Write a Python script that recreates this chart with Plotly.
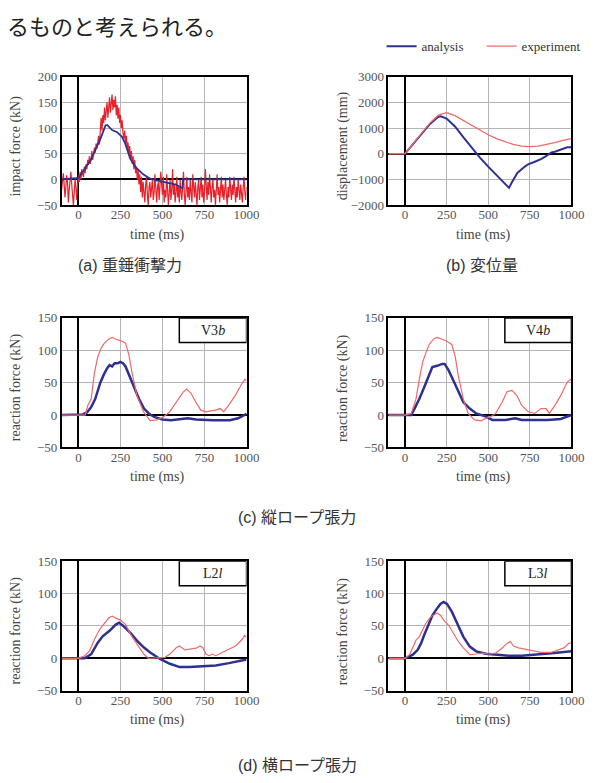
import plotly.graph_objects as go

W, H = 602, 783

# ---------------- data ----------------
# (a) impact force (kN), experiment sampled every 5 ms
t_a_exp = list(range(-100, 1001, 5))
f_a_exp = [-20, 5, 12, -10, -35, -15, 8, -5, -45, -20, -5, 15, -10, -30, -50, -25, 0, -15, -40, -10,
           8, -5, 15, 0, 20, 10, 5, 25, 12, 30, 20, 38, 28, 45, 30, 40, 55, 38, 50, 62,
           52, 70, 60, 78, 85, 68, 100, 120, 95, 125, 110, 140, 115, 130, 150, 120, 140, 160, 130, 150,
           165, 135, 155, 140, 162, 125, 145, 118, 140, 110, 125, 100, 115, 90, 80, 95, 70, 85, 60, 72,
           50, 65, 40, 55, 30, 45, 20, 38, 12, 25, 0, 18, -10, 10, -25, 5, -35, -5, -20, -45,
           -10, 5, -30, -50, -15, -5, -35, -20, 0, -40, -25, 10, -30, -45, -15, -5, -40, -20, 15, -10,
           -30, 5, -45, -20, -35, 10, -15, -50, -25, 0, -40, -20, 20, -30, -10, -45, -25, 5, -35, -15,
           -45, 0, -25, -40, -10, 15, -30, -50, -20, 5, -35, -15, -40, 0, -25, -45, 10, -20, -35, -5,
           -30, -50, -15, 0, -40, -20, 5, -35, -10, -45, -25, 20, -15, -40, -5, -30, 10, -25, -45, -15,
           0, -35, -20, -50, -10, 10, -30, -15, -45, -25, 5, -35, -10, -40, -20, 0, -30, -50, -15, -35,
           5, -20, -40, -10, -30, 5, -25, -45, -15, -35, 0, -20, -40, -10, -30, -45, -15, 5, -25, -40,
           -15]
t_a_ana = [-100, 0, 74, 132, 161, 171, 200, 230, 259, 278, 307, 337, 385, 424,
           463, 521, 580, 619, 622, 1000]
f_a_ana = [0, 3, 38, 80, 105, 106, 96, 92, 83, 70, 41, 25, 10, 2,
           -2, -6, -10, -17, 0, 0]

# (b) displacement (mm)
t_b_ana = [0, 50, 100, 150, 200, 215, 250, 300, 350, 400, 430, 450, 500, 550,
           600, 625, 640, 675, 720, 740, 780, 820, 850, 880, 900, 920, 950, 975, 1000]
d_b_ana = [0, 400, 780, 1160, 1440, 1460, 1370, 1060, 650, 230, 0, -150, -500, -820,
           -1140, -1330, -1140, -750, -500, -410, -310, -200, -80, 50, 80, 130, 200, 250, 250]
t_b_exp = [-100, 0, 50, 100, 150, 200, 250, 300, 350, 400, 450, 500, 550, 600,
           650, 700, 750, 800, 850, 900, 950, 1000]
d_b_exp = [0, 0, 400, 790, 1200, 1500, 1600, 1480, 1290, 1100, 907, 740, 590, 460,
           360, 295, 280, 295, 360, 435, 520, 590]

# (c) V3b reaction force (kN)
t_c_ana = [-100, 0, 25, 50, 75, 100, 115, 130, 150, 170, 185, 200, 215, 235, 250,
           265, 280, 300, 330, 360, 390, 420, 450, 500, 550, 600, 650, 700, 750,
           800, 850, 900, 950, 975, 1000]
v_c_ana = [0, 0, 1, 4, 12, 25, 38, 50, 62, 72, 77, 75, 80, 80, 82,
           80, 75, 63, 45, 25, 10, 2, -3, -7, -8, -7, -5, -7, -8,
           -8, -8, -8, -5, -2, 2]
t_c_exp = [-100, 0, 40, 56, 76, 95, 115, 134, 154, 183, 202, 222, 251, 280, 300,
           319, 348, 387, 426, 465, 504, 543, 582, 621, 644, 669, 698, 728, 757,
           815, 844, 864, 893, 932, 971, 990, 1000]
v_c_exp = [0, 0, 0, 15, 25, 65, 90, 103, 111, 118, 120, 117, 115, 111, 93,
           65, 30, 5, -8.5, -7.5, -3.5, 5, 20, 35, 40, 34, 20, 7.5, 5,
           7.5, 10, 5, 15, 30, 48, 55, 53]

# (d) V4b reaction force (kN)
t_d_ana = [-100, 0, 37, 57, 86, 115, 145, 164, 193, 223, 238, 262, 291, 320, 350,
           389, 428, 486, 525, 604, 662, 701, 857, 936, 975, 1000]
v_d_ana = [0, 0, 0, 10, 25, 43, 61, 74, 76, 79, 79, 69, 53, 36, 20,
           10, 2.5, -2.5, -7.6, -7.6, -5, -7.6, -7.6, -6, -2.5, 0]
t_d_exp = [-100, 0, 37, 66, 86, 105, 125, 145, 174, 193, 223, 252, 281, 301, 320,
           350, 379, 418, 457, 486, 516, 545, 584, 613, 643, 672, 701, 740, 779,
           818, 848, 867, 896, 936, 975, 1000]
v_d_exp = [0, 0, 2.5, 25, 56, 81, 96, 109, 118, 120, 117, 114, 109, 91, 61,
           25, 2.5, -7.6, -9, -5, -2.5, 2.5, 20, 36, 38, 30, 15, 5, 2.5,
           10, 10, 2.5, 13, 30, 51, 56]

# (e) L2l reaction force (kN)
t_e_ana = [-100, 0, 37, 76, 115, 144, 183, 222, 242, 271, 310, 349, 388, 427,
           485, 544, 602, 661, 739, 817, 895, 953, 1000]
v_e_ana = [0, 0, 0, 6.5, 24, 34, 42, 52, 55, 49, 39, 27, 17, 9,
           -1, -8.5, -13.6, -13.6, -12, -11, -7.5, -4.5, -2]
t_e_exp = [-100, 0, 37, 66, 95, 125, 154, 183, 203, 222, 251, 281, 310, 349, 388,
           417, 446, 485, 515, 544, 583, 602, 632, 661, 700, 723, 739, 758, 778,
           797, 817, 856, 895, 934, 973, 988, 1000]
v_e_exp = [0, 0, 4, 11.5, 29, 44, 54, 63, 65, 62, 59, 52, 37, 21.6, 6.5,
           0, 0.5, 0, 1.5, 6.5, 16.6, 19, 13, 14, 15.6, 19, 16.6, 6.5, 4,
           6.5, 4, 9, 14, 19, 29, 35, 33]

# (f) L3l reaction force (kN)
t_f_ana = [-100, 0, 18, 47, 76, 96, 115, 145, 164, 184, 213, 232, 252, 281, 311,
           350, 389, 428, 486, 545, 623, 701, 799, 896, 1000]
v_f_ana = [0, 0, 2, 5.6, 13, 23, 36, 56, 66, 74, 84, 87, 84, 72, 54,
           33.5, 18, 10.7, 7, 5.6, 4, 4, 5.6, 8, 10.7]
t_f_exp = [-100, 0, 27, 47, 66, 86, 105, 125, 154, 193, 213, 232, 262, 291, 320,
           350, 389, 428, 467, 506, 545, 584, 613, 633, 652, 682, 721, 760, 818,
           877, 916, 955, 984, 1000]
v_f_exp = [0, 0, 5.6, 16, 28, 33.5, 44, 54, 64, 70, 66.5, 59, 51, 38.6, 26,
           16, 5.6, 6.6, 8, 6.6, 8, 16, 23, 26, 19, 16, 14, 13, 9,
           9, 13, 16, 23, 24]

x_ticks = [0, 250, 500, 750, 1000]
panel_labels = ["V3<i>b</i>", "V4<i>b</i>", "L2<i>l</i>", "L3<i>l</i>"]
subtitles = ["(a) 重錘衝撃力", "(b) 変位量", "(c) 縦ロープ張力", "(d) 横ロープ張力"]

# ---------------- style ----------------
BLUE = "#2e3192"
RED_A = "#e8202a"
RED = "#ee6a6a"
SERIF = "Liberation Serif, Times New Roman, serif"
JP = "Liberation Sans, Noto Sans CJK JP, sans-serif"

def px(x):
    return x / W

def py(y):
    return 1 - y / H

# plot area boxes (left, right, top, bottom) in pixels
boxes = [
    (63, 252, 71, 202),
    (397, 584, 71, 202),
    (63, 252, 317, 449),
    (397, 584, 317, 449),
    (63, 252, 565, 697),
    (397, 584, 565, 697),
]
yranges = [(-50, 200), (-2000, 3000), (-50, 150), (-50, 150), (-50, 150), (-50, 150)]
ydticks = [50, 1000, 50, 50, 50, 50]
ytitles = ["impact force (kN)", "displacement (mm)", "reaction force (kN)",
           "reaction force (kN)", "reaction force (kN)", "reaction force (kN)"]

fig = go.Figure()

def add(i, x, y, color, width, name=None, show=False):
    sfx = "" if i == 0 else str(i + 1)
    fig.add_trace(go.Scatter(x=x, y=y, mode="lines",
                             line=dict(color=color, width=width),
                             name=name, showlegend=show,
                             xaxis="x" + sfx, yaxis="y" + sfx))

add(0, t_a_exp, f_a_exp, RED_A, 1.2)
add(0, t_a_ana, f_a_ana, BLUE, 1.8)
add(1, t_b_ana, d_b_ana, BLUE, 2.0, "analysis", True)
add(1, t_b_exp, d_b_exp, RED, 1.3, "experiment", True)
add(2, t_c_ana, v_c_ana, BLUE, 2.5)
add(2, t_c_exp, v_c_exp, RED, 1.2)
add(3, t_d_ana, v_d_ana, BLUE, 2.5)
add(3, t_d_exp, v_d_exp, RED, 1.2)
add(4, t_e_ana, v_e_ana, BLUE, 2.5)
add(4, t_e_exp, v_e_exp, RED, 1.2)
add(5, t_f_ana, v_f_ana, BLUE, 2.5)
add(5, t_f_exp, v_f_exp, RED, 1.2)

layout = {}
annotations = []
shapes = []
tickfont = dict(family=SERIF, size=13, color="#555555")
for i, (l, r, t, b) in enumerate(boxes):
    sfx = "" if i == 0 else str(i + 1)
    layout["xaxis" + sfx] = dict(
        domain=[px(l), px(r)], range=[-100, 1000], anchor="y" + sfx,
        tickvals=x_ticks, showgrid=True, gridcolor="#b4b4b4", gridwidth=1,
        zeroline=True, zerolinecolor="#000000", zerolinewidth=1.5,
        showline=True, mirror=True, linecolor="#000000", linewidth=1.5,
        ticks="", tickfont=tickfont, ticklabelstandoff=-3, fixedrange=True)
    y0, y1 = yranges[i]
    layout["yaxis" + sfx] = dict(
        domain=[py(b), py(t)], range=[y0, y1], anchor="x" + sfx,
        dtick=ydticks[i], tick0=0, showgrid=True, gridcolor="#b4b4b4", gridwidth=1,
        zeroline=True, zerolinecolor="#000000", zerolinewidth=1.5,
        showline=True, mirror=True, linecolor="#000000", linewidth=1.5,
        ticks="", tickfont=tickfont, fixedrange=True)
    # axis titles
    annotations.append(dict(text="time (ms)", xref="paper", yref="paper",
                            x=px((l + r) / 2 + 3), y=py(b + 30), showarrow=False,
                            xanchor="center", yanchor="middle",
                            font=dict(family=SERIF, size=14, color="#444444")))
    annotations.append(dict(text=ytitles[i], xref="paper", yref="paper",
                            x=px(l - 47), y=py((t + b) / 2 + 5), showarrow=False,
                            textangle=-90, xanchor="center", yanchor="middle",
                            font=dict(family=SERIF, size=14, color="#444444")))
    if i >= 2:
        xa = "x" + sfx
        ya = "y" + sfx
        shapes.append(dict(type="rect", xref=xa, yref=ya, x0=600, x1=1000,
                           y0=112, y1=150, fillcolor="white",
                           line=dict(color="#000000", width=1.5), layer="above"))
        annotations.append(dict(text=panel_labels[i - 2], xref=xa, yref=ya,
                                x=800, y=131, showarrow=False,
                                font=dict(family=SERIF, size=14, color="#222222")))

# subtitles
sub_pos = [(133, 264), (493, 264), (304, 520), (304, 773)]
for s, (x, y) in zip(subtitles, sub_pos):
    annotations.append(dict(text=s, xref="paper", yref="paper", x=px(x), y=py(y),
                            showarrow=False, xanchor="center", yanchor="middle",
                            font=dict(family=JP, size=16, color="#333333")))

# sentence fragment at the top of the page
annotations.append(dict(text="るものと考えられる。", xref="paper", yref="paper",
                        x=px(5), y=1, showarrow=False, xanchor="left",
                        yanchor="top",
                        font=dict(family="Noto Sans CJK JP", size=22, color="#222222")))

fig.update_layout(
    **layout,
    width=W, height=H,
    margin=dict(l=0, r=0, t=0, b=0),
    paper_bgcolor="white", plot_bgcolor="white",
    annotations=annotations, shapes=shapes,
    legend=dict(orientation="h", x=px(390), y=py(40), xanchor="left",
                yanchor="middle", font=dict(family=SERIF, size=13, color="#333333"),
                bgcolor="rgba(0,0,0,0)", entrywidth=55, itemwidth=30,
                tracegroupgap=0),
)

fig.write_html("out.html")
